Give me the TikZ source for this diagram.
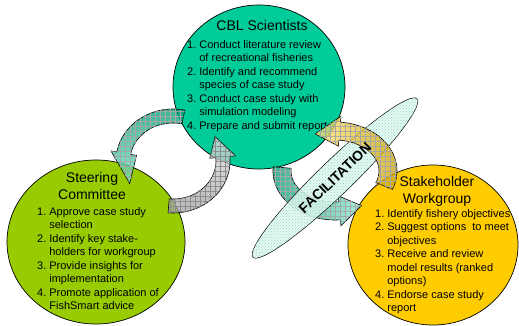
\documentclass[tikz,border=0pt]{standalone}
\usepackage{fontspec}
\setmainfont{Liberation Sans}
\usetikzlibrary{shapes.geometric,patterns,patterns.meta}

\definecolor{cblgreen}{HTML}{00CC99}
\definecolor{steergreen}{HTML}{99CC00}
\definecolor{stakegold}{HTML}{FFCC00}
\definecolor{mint}{HTML}{E2F8F0}
\definecolor{dots}{HTML}{7FD9BC}

% bent block arrow on an ellipse round the origin:
% #1 style, #2/#3 outer radii, #4 band, #5 tail, #6 head base, #7 tip
\newcommand{\bentarrow}[7]{%
  \draw[#1] plot[domain=#5:#6, samples=30] ({#2*cos(\x)}, {#3*sin(\x)})
    -- ({(#2+6)*cos(#6)}, {(#3+6)*sin(#6)})
    -- ({(#2-#4/2)*cos(#7)}, {(#3-#4/2)*sin(#7)})
    -- ({(#2-#4-6)*cos(#6)}, {(#3-#4-6)*sin(#6)})
    -- plot[domain=#6:#5, samples=30] ({(#2-#4)*cos(\x)}, {(#3-#4)*sin(\x)})
    -- cycle;}

\tikzset{
  bubble/.style={ellipse, draw=black, line width=0.7pt, inner sep=0pt},
  head/.style={font=\fontsize{14}{17}\selectfont, align=center, inner sep=0pt},
  todo/.style={font=\fontsize{11}{13.5}\selectfont, anchor=north west, inner sep=0pt},
  swoosh/.style={draw=black, line width=0.6pt, fill opacity=0.75,
    postaction={pattern={Hatch[distance=5pt, line width=0.3pt]}, pattern color=#1}},
  facil/.style={ellipse, draw=black, line width=0.5pt, rotate=44, fill=mint,
    minimum width=228pt, minimum height=34pt,
    postaction={pattern=crosshatch dots, pattern color=dots}},
}

\begin{document}
\begin{tikzpicture}[x=1pt, y=-1pt]
\useasboundingbox (0,0) rectangle (519,326);

% the three groups
\node[bubble, fill=cblgreen, minimum width=172pt, minimum height=164pt] (cbl) at (259,87) {};
\node[bubble, fill=steergreen, minimum width=178pt, minimum height=164pt] (steer) at (96,242) {};
\node[bubble, fill=stakegold, minimum width=170pt, minimum height=160pt] (stake) at (433,245) {};

\node[head] (cblhead) at (262,25) {CBL Scientists};
\node[todo] (cbllist) at (187,38.5) {\begin{tabular}{@{}l@{\hspace{3pt}}l@{}}
  1.&Conduct literature review\\ &of recreational fisheries\\
  2.&Identify and recommend\\ &species of case study\\
  3.&Conduct case study with\\ &simulation modeling\\
  4.&Prepare and submit report\end{tabular}};

\node[head] (steerhead) at (92,185.5) {Steering\\Committee};
\node[todo] (steerlist) at (37,205.6) {\begin{tabular}{@{}l@{\hspace{3pt}}l@{}}
  1.&Approve case study\\ &selection\\
  2.&Identify key stake-\\ &holders for workgroup\\
  3.&Provide insights for\\ &implementation\\
  4.&Promote application of\\ &FishSmart advice\end{tabular}};

\node[head] (stakehead) at (437,191) {Stakeholder\\Workgroup};
\node[todo] (stakelist) at (375,207.6) {\begin{tabular}{@{}l@{\hspace{3pt}}l@{}}
  1.&Identify fishery objectives\\
  2.&Suggest options~ to meet\\ &objectives\\
  3.&Receive and review\\ &model results (ranked\\ &options)\\
  4.&Endorse case study\\ &report\end{tabular}};

% exchange between scientists and committee
\begin{scope}[shift={(173,161)}]
  \bentarrow{swoosh=black!35, top color=cblgreen!75!black, bottom color=cblgreen!55}{57}{52}{14}{-78}{-170}{-210}
  \bentarrow{swoosh=black!45, top color=black!12, bottom color=black!38}{57}{52}{14}{95}{-5}{-33}
\end{scope}

% facilitation loop
\begin{scope}[shift={(335,171)}]
  \bentarrow{swoosh=black!35, left color=cblgreen!75!black, right color=cblgreen!45}{62}{49}{18}{185}{85}{60}
\end{scope}
\node[facil, fill opacity=0.85] (fac) at (335,178) {};
\begin{scope}[shift={(335,171)}]
  \bentarrow{swoosh=black!35, left color=stakegold!55, right color=stakegold!80!black}{62}{49}{18}{22}{-85}{-112}
\end{scope}
\node[rotate=44, font=\bfseries\fontsize{14}{14}\selectfont] (factext) at (fac) {FACILITATION};
\end{tikzpicture}
\end{document}
